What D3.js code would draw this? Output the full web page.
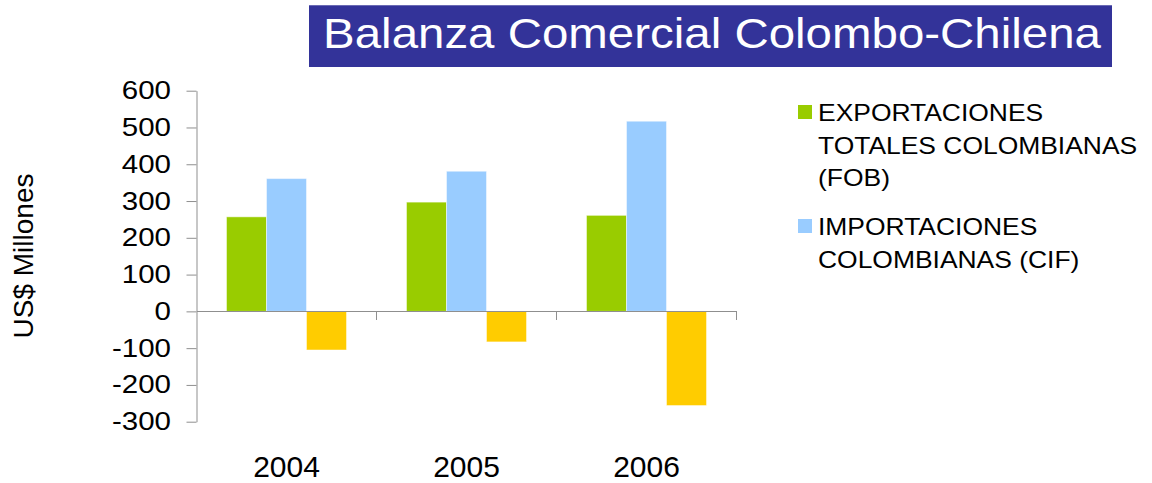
<!DOCTYPE html>
<html>
<head>
<meta charset="utf-8">
<script src="https://cdn.jsdelivr.net/npm/d3@7"></script>
<style>
  body { margin: 0; background: #fff; }
  text { font-family: "Liberation Sans", Arial, sans-serif; }
</style>
</head>
<body>
<div id="chart"></div>
<script>
// data (US$ millones)
const years = ['2004', '2005', '2006'];
const exportaciones = [257, 297, 261];
const importaciones = [361, 381, 517];
const balanza = [-105, -83, -256];
const yTicks = [-300, -200, -100, 0, 100, 200, 300, 400, 500, 600];
const legendLabels = [
  ['EXPORTACIONES', 'TOTALES COLOMBIANAS', '(FOB)'],
  ['IMPORTACIONES', 'COLOMBIANAS (CIF)']
];
const titulo = 'Balanza Comercial Colombo-Chilena';
const yTitle = 'US$ Millones';

const series = ['exp', 'imp', 'bal'];
const colours = {exp: '#99cc00', imp: '#99ccff', bal: '#ffcc00'};
const axisGrey = '#8f8f8f';

const data = years.map((y, i) => ({year: y, exp: exportaciones[i], imp: importaciones[i], bal: balanza[i]}));

const W = 1152, H = 483;
// plot area: x 196.5..736.5, y 90.7..421.7
var margin = {top: 90.7, left: 196.5},
    width = 540,
    height = 331;

const svg = d3.select('#chart').append('svg')
    .attr('width', W)
    .attr('height', H);

// title box
svg.append('rect')
    .attr('x', 309).attr('y', 5)
    .attr('width', 803).attr('height', 62)
    .attr('fill', '#333399');
svg.append('line')
    .attr('x1', 309).attr('x2', 1112)
    .attr('y1', 5.5).attr('y2', 5.5)
    .attr('stroke', '#6a6ab4');
svg.append('text')
    .attr('transform', 'translate(712,48) scale(1.13,1)')
    .attr('text-anchor', 'middle')
    .attr('font-size', 42)
    .attr('fill', '#fff')
    .text(titulo);

// y title
svg.append('text')
    .attr('transform', 'translate(33,256) rotate(-90)')
    .attr('text-anchor', 'middle')
    .attr('font-size', 28)
    .attr('fill', '#000')
    .text(yTitle);

const g = svg.append('g')
    .attr('transform', 'translate(' + margin.left + ',' + margin.top + ')');

// scales
var x0 = d3.scaleBand()
    .domain(years)
    .range([0, width]);

var x1 = d3.scaleBand()
    .domain(series)
    .range([0, x0.bandwidth()])
    .paddingOuter(0.75);

var y = d3.scaleLinear()
    .domain([-300, 600])
    .range([height, 0]);

// bars
const groups = g.selectAll('.grp')
    .data(data)
  .enter().append('g')
    .attr('class', 'grp')
    .attr('transform', d => 'translate(' + x0(d.year) + ',0)');

groups.selectAll('rect')
    .data(d => series.map(s => ({key: s, value: d[s]})))
  .enter().append('rect')
    .attr('x', d => x1(d.key))
    .attr('width', x1.bandwidth())
    .attr('y', d => y(Math.max(0, d.value)))
    .attr('height', d => Math.abs(y(d.value) - y(0)))
    .attr('fill', d => colours[d.key])
    .attr('stroke', '#fff')
    .attr('stroke-opacity', 0.45)
    .attr('stroke-width', 1);

// y axis (plain hyphen for negatives, like the original)
const yAxisGroup = g.append('g')
    .call(d3.axisLeft(y)
      .tickValues(yTicks)
      .tickSize(10)
      .tickSizeOuter(0)
      .tickFormat(d => String(d)));

yAxisGroup.select('path.domain').attr('stroke', axisGrey);
yAxisGroup.selectAll('.tick line').attr('stroke', axisGrey);
yAxisGroup.selectAll('text')
    .attr('font-size', 25)
    .attr('fill', '#000')
    .attr('x', -25.5 / 1.18)
    .attr('transform', 'scale(1.18,1)');

// zero line with category separators
g.append('line')
    .attr('x1', 0).attr('x2', width)
    .attr('y1', y(0)).attr('y2', y(0))
    .attr('stroke', axisGrey)
    .attr('shape-rendering', 'crispEdges');

g.selectAll('.sep')
    .data(years)
  .enter().append('line')
    .attr('class', 'sep')
    .attr('x1', d => x0(d) + x0.bandwidth())
    .attr('x2', d => x0(d) + x0.bandwidth())
    .attr('y1', y(0))
    .attr('y2', y(0) + 9)
    .attr('stroke', axisGrey)
    .attr('shape-rendering', 'crispEdges');

// year labels
const xAxisGroup = g.append('g')
    .attr('transform', 'translate(0,' + height + ')')
    .call(d3.axisBottom(x0).tickSize(0).tickPadding(34));

xAxisGroup.select('path.domain').remove();
xAxisGroup.selectAll('text')
    .attr('font-size', 30)
    .attr('fill', '#000');

// legend
const legendTop = [105, 219];
const legend = svg.selectAll('.legend')
    .data(legendLabels)
  .enter().append('g')
    .attr('class', 'legend')
    .attr('transform', (d, i) => 'translate(798,' + legendTop[i] + ')');

legend.append('rect')
    .attr('width', 14)
    .attr('height', 14)
    .attr('fill', (d, i) => colours[series[i]]);

legend.selectAll('text')
    .data(d => d)
  .enter().append('text')
    .attr('transform', (d, j) => 'translate(20,' + (16 + j * 32.5) + ') scale(1.15,1)')
    .attr('font-size', 23)
    .attr('fill', '#000')
    .text(d => d);
</script>
</body>
</html>
